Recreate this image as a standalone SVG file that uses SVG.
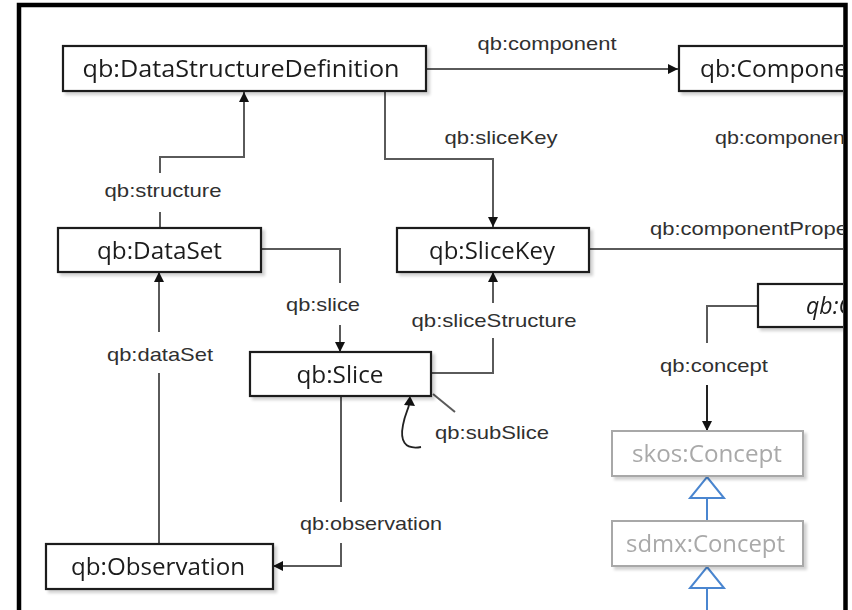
<svg xmlns="http://www.w3.org/2000/svg" width="852" height="610" viewBox="0 0 852 610">
  <defs>
    <clipPath id="frameClip">
      <rect x="21" y="7" width="822" height="610"/>
    </clipPath>
    <filter id="shadow" x="-10%" y="-20%" width="130%" height="160%">
      <feGaussianBlur in="SourceAlpha" stdDeviation="1.5"/>
      <feOffset dx="3" dy="3" result="b"/>
      <feComponentTransfer><feFuncA type="linear" slope="0.18"/></feComponentTransfer>
      <feMerge><feMergeNode/><feMergeNode in="SourceGraphic"/></feMerge>
    </filter>
    <marker id="arrow" viewBox="0 0 10 10" refX="10" refY="5" markerWidth="10" markerHeight="10" markerUnits="userSpaceOnUse" orient="auto">
      <path d="M0,0 L10,5 L0,10 Z" fill="#111"/>
    </marker>
  </defs>
  <style>
    .box { fill: #fff; stroke: #1e1e1e; stroke-width: 2.2; }
    .box-ext { fill: #fff; stroke: #a8a8a8; stroke-width: 2; }
    .node-text { font-family: "Open Sans", "Liberation Sans", sans-serif; font-size: 23px; fill: #1c1c1c; text-anchor: middle; }
    .node-ext { font-family: "Open Sans", "Liberation Sans", sans-serif; font-size: 23px; fill: #a9a9a9; text-anchor: middle; }
    .label { font-family: "Liberation Sans", Arial, sans-serif; font-size: 19px; fill: #303030; text-anchor: middle; }
    .edge { fill: none; stroke: #5a5a5a; stroke-width: 2; }
    .gen { fill: none; stroke: #4a86d0; stroke-width: 2; }
  </style>

  <rect x="0" y="0" width="852" height="610" fill="#fff"/>

  <g clip-path="url(#frameClip)">
    <!-- connectors -->
    <g id="connectors">
      <!-- qb:component -->
      <path class="edge" d="M426,69 H678" marker-end="url(#arrow)"/>
      <text class="label" x="547" y="50" textLength="139" lengthAdjust="spacingAndGlyphs">qb:component</text>

      <!-- qb:structure -->
      <path class="edge" d="M160,227 V212"/>
      <path class="edge" d="M160,173 V157 H244 V92" marker-end="url(#arrow)"/>
      <text class="label" x="163" y="197" textLength="117" lengthAdjust="spacingAndGlyphs">qb:structure</text>

      <!-- qb:sliceKey -->
      <path class="edge" d="M385,92 V159 H493 V227" marker-end="url(#arrow)"/>
      <text class="label" x="501" y="144" textLength="113" lengthAdjust="spacingAndGlyphs">qb:sliceKey</text>

      <!-- qb:componentProperty (from the specification) -->
      <text class="label" x="715" y="144" style="text-anchor:start" textLength="130" lengthAdjust="spacingAndGlyphs">qb:componen</text>

      <!-- qb:componentProperty (from the slice key) -->
      <path class="edge" d="M589,249 H845"/>
      <text class="label" x="650" y="235" style="text-anchor:start" textLength="198" lengthAdjust="spacingAndGlyphs">qb:componentPrope</text>

      <!-- qb:slice -->
      <path class="edge" d="M261,249 H340 V283"/>
      <path class="edge" d="M340,325 V352" marker-end="url(#arrow)"/>
      <text class="label" x="323" y="311" textLength="74" lengthAdjust="spacingAndGlyphs">qb:slice</text>

      <!-- qb:sliceStructure -->
      <path class="edge" d="M431,373 H493 V338"/>
      <path class="edge" d="M493,303 V272" marker-end="url(#arrow)"/>
      <text class="label" x="494" y="327" textLength="165" lengthAdjust="spacingAndGlyphs">qb:sliceStructure</text>

      <!-- qb:dataSet -->
      <path class="edge" d="M159,543 V373"/>
      <path class="edge" d="M159,332 V272" marker-end="url(#arrow)"/>
      <text class="label" x="160" y="361" textLength="106" lengthAdjust="spacingAndGlyphs">qb:dataSet</text>

      <!-- qb:subSlice (self loop on qb:Slice) -->
      <path class="edge" d="M433,394 L455,412"/>
      <path d="M421,447 C404,450 400,440 403,425 C405,414 408,410 409,405" fill="none" stroke="#222" stroke-width="1.8"/>
      <path d="M410,396 L415,406 L404,405 Z" fill="#111"/>
      <text class="label" x="492" y="439" textLength="114" lengthAdjust="spacingAndGlyphs">qb:subSlice</text>

      <!-- qb:observation -->
      <path class="edge" d="M341,396 V502"/>
      <path class="edge" d="M341,543 V566 H273" marker-end="url(#arrow)"/>
      <text class="label" x="371" y="530" textLength="142" lengthAdjust="spacingAndGlyphs">qb:observation</text>

      <!-- qb:concept -->
      <path class="edge" d="M758,306 H707 V343"/>
      <path class="edge" d="M707,385 V431" marker-end="url(#arrow)" style="stroke:#222"/>
      <text class="label" x="714" y="372" textLength="108" lengthAdjust="spacingAndGlyphs">qb:concept</text>

      <!-- subclass relations -->
      <path class="gen" d="M707,498 V521"/>
      <path class="gen" d="M707,477 L724,498 L690,498 Z" fill="#fff"/>
      <path class="gen" d="M707,588 V612"/>
      <path class="gen" d="M707,567 L724,588 L690,588 Z" fill="#fff"/>
    </g>

    <!-- nodes -->
    <g id="node-dsd" filter="url(#shadow)">
      <rect class="box" x="63" y="46" width="363" height="45"/>
      <text class="node-text" x="241" y="77" textLength="317" lengthAdjust="spacingAndGlyphs">qb:DataStructureDefinition</text>
    </g>
    <g id="node-component-spec" filter="url(#shadow)">
      <rect class="box" x="679" y="46" width="200" height="45"/>
      <text class="node-text" x="700" y="77" style="text-anchor:start" textLength="148" lengthAdjust="spacingAndGlyphs">qb:Compone</text>
    </g>
    <g id="node-dataset" filter="url(#shadow)">
      <rect class="box" x="58" y="228" width="203" height="44"/>
      <text class="node-text" x="159.5" y="258.5" textLength="125" lengthAdjust="spacingAndGlyphs">qb:DataSet</text>
    </g>
    <g id="node-slicekey" filter="url(#shadow)">
      <rect class="box" x="397" y="228" width="192" height="44"/>
      <text class="node-text" x="492" y="258.5" textLength="126" lengthAdjust="spacingAndGlyphs">qb:SliceKey</text>
    </g>
    <g id="node-slice" filter="url(#shadow)">
      <rect class="box" x="250" y="352" width="181" height="44"/>
      <text class="node-text" x="340" y="382.5" textLength="87" lengthAdjust="spacingAndGlyphs">qb:Slice</text>
    </g>
    <g id="node-observation" filter="url(#shadow)">
      <rect class="box" x="46" y="544" width="227" height="45"/>
      <text class="node-text" x="158" y="575" textLength="174" lengthAdjust="spacingAndGlyphs">qb:Observation</text>
    </g>
    <g id="node-component-property" filter="url(#shadow)">
      <rect class="box" x="758" y="284" width="150" height="43"/>
      <text class="node-text" x="806" y="313.5" style="text-anchor:start;font-style:italic" textLength="46" lengthAdjust="spacingAndGlyphs">qb:C</text>
    </g>
    <g id="node-skos-concept" filter="url(#shadow)">
      <rect class="box-ext" x="612" y="431" width="191" height="45"/>
      <text class="node-ext" x="707" y="462" textLength="150" lengthAdjust="spacingAndGlyphs">skos:Concept</text>
    </g>
    <g id="node-sdmx-concept" filter="url(#shadow)">
      <rect class="box-ext" x="612" y="521" width="191" height="45"/>
      <text class="node-ext" x="705.5" y="552" textLength="159" lengthAdjust="spacingAndGlyphs">sdmx:Concept</text>
    </g>
  </g>

  <!-- frame -->
  <path d="M19,612 V5 H845.5 V612" fill="none" stroke="#000" stroke-width="4.5"/>
</svg>
